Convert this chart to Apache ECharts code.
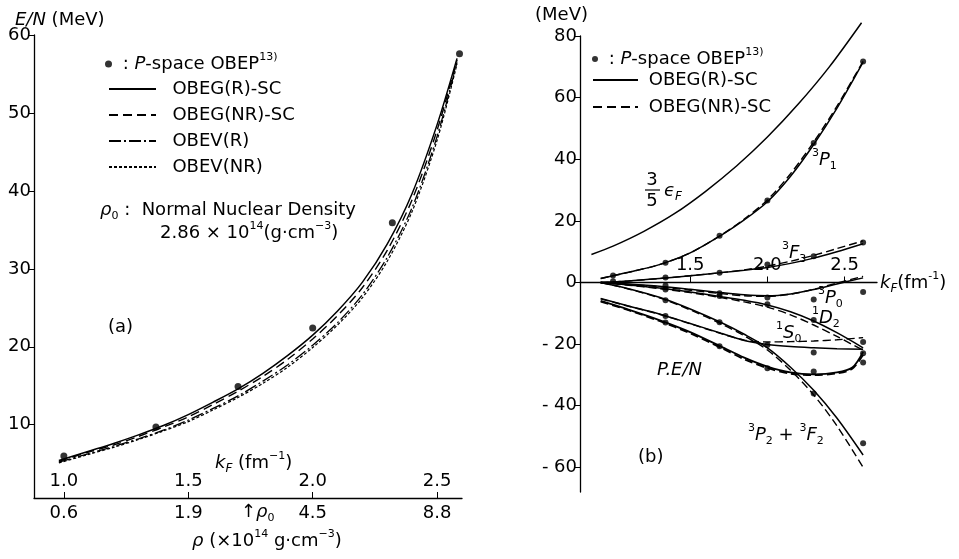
<!DOCTYPE html>
<html>
<head>
<meta charset="utf-8">
<script src="https://cdn.jsdelivr.net/npm/echarts@6/dist/echarts.min.js"></script>
<style>
  html, body { margin: 0; padding: 0; background: #fff; }
  #chart { width: 959px; height: 559px; }
</style>
</head>
<body>
<div id="chart"></div>
<script>
// ---- (a) energy per particle vs kF ----
const kfA = [0.98, 1.1, 1.2, 1.3, 1.4, 1.5, 1.6, 1.7, 1.8, 1.9, 2.0, 2.1, 2.2, 2.3, 2.4, 2.5, 2.58]
const obegR_A  = [5.4, 6.6, 7.6, 8.7, 9.9, 11.3, 12.9, 14.6, 16.6, 18.9, 21.5, 24.6, 28.3, 33.2, 39.7, 48.5, 57.0]
const obegNR_A = [5.3, 6.5, 7.4, 8.5, 9.7, 11.0, 12.6, 14.3, 16.2, 18.4, 21.0, 24.0, 27.6, 32.4, 38.9, 47.8, 56.8]
const obevR_A  = [5.2, 6.3, 7.2, 8.2, 9.3, 10.6, 12.1, 13.7, 15.6, 17.7, 20.2, 23.1, 26.7, 31.5, 37.9, 47.0, 56.5]
const obevNR_A = [5.1, 6.2, 7.1, 8.1, 9.2, 10.4, 11.9, 13.5, 15.3, 17.4, 19.9, 22.8, 26.3, 31.0, 37.4, 46.5, 56.3]
const dotKfA = [1.0, 1.37, 1.70, 2.0, 2.32, 2.59]
const dotEA  = [6.0, 9.7, 14.9, 22.4, 35.9, 57.6]
const kfTicksA = [1.0, 1.5, 2.0, 2.5]
const rhoLabels = ['0.6', '1.9', '4.5', '8.8']
const eTicksA = [10, 20, 30, 40, 50, 60]

// ---- (b) partial wave contributions ----
const kfEps = [0.86, 1.0, 1.2, 1.4, 1.6, 1.8, 2.0, 2.2, 2.4, 2.61]
const eps35 = [9.1, 11.8, 16.6, 22.4, 29.6, 37.8, 47.2, 57.9, 69.9, 84.3]
const kfB = [0.92, 1.1, 1.3, 1.5, 1.7, 1.85, 2.0, 2.15, 2.3, 2.45, 2.62]
const p1R    = [1.3, 3.3, 5.8, 9.6, 15.3, 20.3, 26.2, 34.5, 44.8, 56.5, 71.5]
const p1NR   = [1.3, 3.3, 5.8, 9.6, 15.4, 20.6, 26.8, 35.3, 45.6, 57.2, 71.8]
const f3R    = [0, 0.5, 1.3, 2.2, 3.2, 4.0, 4.9, 6.2, 7.9, 10.0, 12.6]
const f3NR   = [0, 0.5, 1.3, 2.2, 3.2, 4.1, 5.3, 6.9, 8.8, 11.0, 13.5]
const p0R    = [0, -0.5, -1.2, -2.2, -3.3, -4.0, -4.3, -3.7, -2.3, -0.5, 1.5]
const p0NR   = [0, -0.6, -1.4, -2.5, -3.6, -4.3, -4.5, -3.8, -2.2, -0.2, 2.0]
const d2R    = [0, -0.8, -1.8, -3.1, -4.6, -5.8, -7.3, -9.5, -12.5, -16.3, -21.2]
const d2NR   = [0, -0.9, -2.0, -3.3, -4.9, -6.3, -8.0, -10.5, -13.8, -17.5, -22.0]
const s0R    = [-5.2, -7.6, -10.2, -13.3, -16.5, -18.8, -20.1, -20.8, -21.2, -21.5, -21.7]
const s0NR   = [-5.3, -7.7, -10.3, -13.4, -16.6, -18.7, -19.3, -19.2, -19.0, -18.6, -17.9]
const p2f2R  = [0, -2.0, -4.8, -8.6, -13.0, -16.8, -21.2, -27.5, -35.0, -44.0, -56.0]
const p2f2NR = [0, -2.1, -5.0, -8.9, -13.4, -17.3, -21.9, -28.5, -36.5, -46.5, -60.0]
const kfPE = [0.92, 1.1, 1.3, 1.5, 1.7, 1.85, 2.0, 2.15, 2.3, 2.45, 2.55, 2.62]
const peR  = [-6.0, -8.8, -12.2, -16.1, -20.8, -24.4, -27.3, -29.2, -29.8, -29.2, -27.6, -22.5]
const peNR = [-6.2, -9.0, -12.5, -16.5, -21.2, -24.9, -27.8, -29.6, -30.1, -29.5, -28.0, -23.5]
// P-space OBEP points (null = not shown)
const dotKfB = [1.0, 1.34, 1.69, 2.0, 2.3, 2.62]
const dotP1   = [2.3, 6.4, 15.2, 26.6, 45.3, 71.7]
const dotF3   = [0.4, 1.6, 3.2, 5.8, 8.5, 13.0]
const dotP0   = [null, -1.0, -3.5, -4.9, -5.5, -3.1]
const dotD2   = [null, -2.3, -4.4, -7.1, -12.2, -19.3]
const dotS0   = [null, -10.9, null, -20.3, -22.7, -23.0]
const dotPE   = [null, -13.0, -20.7, -27.8, -28.9, -26.0]
const dotP2F2 = [null, -5.8, -12.9, null, -36.0, -52.2]
const kfTicksB = [1.5, 2.0, 2.5]
const eTicksB = [-60, -40, -20, 0, 20, 40, 60, 80]

const FONT = 'DejaVu Sans'
const pairs = (xs, ys) => xs.map((x, i) => [x, ys[i]]).filter(p => p[1] != null)

const chart = echarts.init(document.getElementById('chart'))

const solid = { color: '#000', width: 1.5, type: 'solid' }
const dashed = { color: '#000', width: 1.4, type: [8, 4] }

function line(name, xs, ys, style, grid) {
  return {
    name, type: 'line', xAxisIndex: grid === 0 ? 0 : 2, yAxisIndex: grid,
    data: pairs(xs, ys), symbol: 'none', showSymbol: false, smooth: 0.3,
    lineStyle: style, itemStyle: { color: '#000' }, z: 3
  }
}

const series = [
  line('OBEG(R)-SC', kfA, obegR_A, solid, 0),
  line('OBEG(NR)-SC', kfA, obegNR_A, { color: '#000', width: 1.4, type: [9, 5] }, 0),
  line('OBEV(R)', kfA, obevR_A, { color: '#000', width: 1.3, type: [12, 3, 2, 3] }, 0),
  line('OBEV(NR)', kfA, obevNR_A, { color: '#000', width: 1.2, type: [3, 2] }, 0),
  {
    name: 'P-space OBEP', type: 'scatter', xAxisIndex: 0, yAxisIndex: 0,
    data: pairs(dotKfA, dotEA), symbol: 'circle', symbolSize: 7,
    itemStyle: { color: '#000' }, z: 4
  },
  { ...line('3/5 eF', kfEps, eps35, solid, 1), clip: false }
]

const wavesR = [p1R, f3R, p0R, d2R, s0R, p2f2R]
const wavesNR = [p1NR, f3NR, p0NR, d2NR, s0NR, p2f2NR]
wavesR.forEach(ys => series.push(line('OBEG(R)-SC', kfB, ys, solid, 1)))
wavesNR.forEach(ys => series.push(line('OBEG(NR)-SC', kfB, ys, dashed, 1)))
series.push(line('OBEG(R)-SC', kfPE, peR, { color: '#000', width: 1.8, type: 'solid' }, 1))
series.push(line('OBEG(NR)-SC', kfPE, peNR, { color: '#000', width: 1.8, type: [8, 4] }, 1))

const dotsB = [dotP1, dotF3, dotP0, dotD2, dotS0, dotPE, dotP2F2]
series.push({
  name: 'P-space OBEP', type: 'scatter', xAxisIndex: 2, yAxisIndex: 1,
  data: dotsB.flatMap(ys => pairs(dotKfB, ys)), symbol: 'circle', symbolSize: 6,
  itemStyle: { color: '#000' }, z: 4
})

const tickFont = { fontFamily: FONT, fontSize: 18, color: '#000' }
const axisLine = { show: true, lineStyle: { color: '#000', width: 1.3 } }

const richBase = {
  i: { fontFamily: FONT, fontSize: 18, fontStyle: 'italic', color: '#000', lineHeight: 24 },
  n: { fontFamily: FONT, fontSize: 18, color: '#000', lineHeight: 24 },
  sup: { fontFamily: FONT, fontSize: 11, color: '#000', verticalAlign: 'top', lineHeight: 12 },
  sub: { fontFamily: FONT, fontSize: 11, color: '#000', verticalAlign: 'bottom', lineHeight: 12 },
  subi: { fontFamily: FONT, fontSize: 12, fontStyle: 'italic', color: '#000', verticalAlign: 'bottom', lineHeight: 12 }
}

function T(x, y, text, align) {
  return {
    type: 'text', x, y, silent: true,
    style: {
      text, rich: richBase, fill: '#000',
      font: '18px "' + FONT + '"',
      align: align || 'left', verticalAlign: 'middle'
    }
  }
}

const legendText = { fontFamily: FONT, fontSize: 18, color: '#000', lineHeight: 20, rich: richBase }

// right panel: grid bottom edge sits at -68, the kF axis is drawn at E = 0
const gridB = { top: 36, bottom: 67, yMin: -68, yMax: 80 }
const gridBHeight = 559 - gridB.top - gridB.bottom
const zeroOffset = -gridBHeight * (0 - gridB.yMin) / (gridB.yMax - gridB.yMin)

const option = {
  animation: false,
  backgroundColor: '#fff',
  grid: [
    { left: 34, right: 497, top: 35, bottom: 61 },
    { left: 580, right: 82, top: gridB.top, bottom: gridB.bottom }
  ],
  xAxis: [
    {
      type: 'value', gridIndex: 0, min: 0.88, max: 2.6, position: 'bottom',
      axisLine: axisLine, splitLine: { show: false },
      axisTick: { show: true, inside: true, length: 6, customValues: kfTicksA, lineStyle: { color: '#000' } },
      axisLabel: { inside: true, margin: 8, customValues: kfTicksA, formatter: v => v.toFixed(1), ...tickFont }
    },
    {
      type: 'value', gridIndex: 0, min: 0.88, max: 2.6, position: 'bottom',
      axisLine: { show: false }, splitLine: { show: false }, axisTick: { show: false },
      axisLabel: {
        margin: 6, customValues: kfTicksA, ...tickFont,
        formatter: v => rhoLabels[kfTicksA.findIndex(t => Math.abs(t - v) < 1e-6)] || ''
      }
    },
    {
      type: 'value', gridIndex: 1, min: 0.786, max: 2.71, position: 'bottom',
      offset: zeroOffset,
      axisLine: { ...axisLine, onZero: false }, splitLine: { show: false },
      axisTick: { show: true, inside: true, length: 6, customValues: kfTicksB, lineStyle: { color: '#000' } },
      axisLabel: { inside: true, margin: 8, customValues: kfTicksB, formatter: v => v.toFixed(1), ...tickFont }
    }
  ],
  yAxis: [
    {
      type: 'value', gridIndex: 0, min: 0.6, max: 60,
      axisLine: axisLine, splitLine: { show: false },
      axisTick: { show: true, length: 5, customValues: eTicksA, lineStyle: { color: '#000' } },
      axisLabel: { margin: 3, customValues: eTicksA, ...tickFont }
    },
    {
      type: 'value', gridIndex: 1, min: gridB.yMin, max: gridB.yMax,
      axisLine: axisLine, splitLine: { show: false },
      axisTick: { show: true, length: 5, customValues: eTicksB, lineStyle: { color: '#000' } },
      axisLabel: {
        margin: 3, customValues: eTicksB, ...tickFont,
        formatter: v => (v < 0 ? '- ' + (-v) : String(v))
      }
    }
  ],
  legend: [
    {
      left: 100, top: 47, orient: 'vertical', selectedMode: false,
      data: ['P-space OBEP'], icon: 'circle', itemWidth: 7, itemHeight: 7,
      formatter: () => ' : {i|P}-space OBEP{sup|13)}', textStyle: legendText
    },
    {
      left: 103, top: 74, orient: 'vertical', selectedMode: false,
      data: ['OBEG(R)-SC', 'OBEG(NR)-SC', 'OBEV(R)', 'OBEV(NR)'],
      itemWidth: 47, itemHeight: 14, itemGap: 6, itemStyle: { opacity: 0 },
      formatter: n => '  ' + n, textStyle: legendText
    },
    {
      left: 587, top: 42, orient: 'vertical', selectedMode: false,
      data: ['P-space OBEP'], icon: 'circle', itemWidth: 6, itemHeight: 6,
      formatter: () => ' : {i|P}-space OBEP{sup|13)}', textStyle: legendText
    },
    {
      left: 587, top: 65, orient: 'vertical', selectedMode: false,
      data: ['OBEG(R)-SC', 'OBEG(NR)-SC'],
      itemWidth: 45, itemHeight: 14, itemGap: 7, itemStyle: { opacity: 0 },
      formatter: n => ' ' + n, textStyle: legendText
    }
  ],
  series,
  graphic: [
    // panel (a)
    T(15, 20, '{i|E/N} {n|(MeV)}'),
    T(100, 210, '{i|ρ}{sub|0} {n|:  Normal Nuclear Density}'),
    T(160, 233, '{n|2.86 × 10}{sup|14}{n|(g·cm}{sup|−3}{n|)}'),
    T(108, 327, '{n|(a)}'),
    T(215, 463, '{i|k}{subi|F}{n| (fm}{sup|−1}{n|)}'),
    T(241, 512, '{n|↑}{i|ρ}{sub|0}'),
    T(192, 541, '{i|ρ}{n| (×10}{sup|14}{n| g·cm}{sup|−3}{n|)}'),
    // panel (b)
    T(535, 15, '{n|(MeV)}'),
    T(880, 283, '{i|k}{subi|F}{n|(fm}{sup|-1}{n|)}'),
    T(652, 180, '{n|3}', 'center'),
    { type: 'line', silent: true, shape: { x1: 645, y1: 190, x2: 660, y2: 190 }, style: { stroke: '#000', lineWidth: 1.2 } },
    T(652, 201, '{n|5}', 'center'),
    T(664, 191, '{i|ϵ}{subi|F}'),
    T(812, 160, '{sup|3}{i|P}{sub|1}'),
    T(782, 253, '{sup|3}{i|F}{sub|3}'),
    T(818, 298, '{sup|3}{i|P}{sub|0}'),
    T(812, 318, '{sup|1}{i|D}{sub|2}'),
    T(776, 333, '{sup|1}{i|S}{sub|0}'),
    T(657, 370, '{i|P.E/N}'),
    T(748, 435, '{sup|3}{i|P}{sub|2}{n| + }{sup|3}{i|F}{sub|2}'),
    T(638, 457, '{n|(b)}')
  ]
}

chart.setOption(option)
</script>
</body>
</html>
